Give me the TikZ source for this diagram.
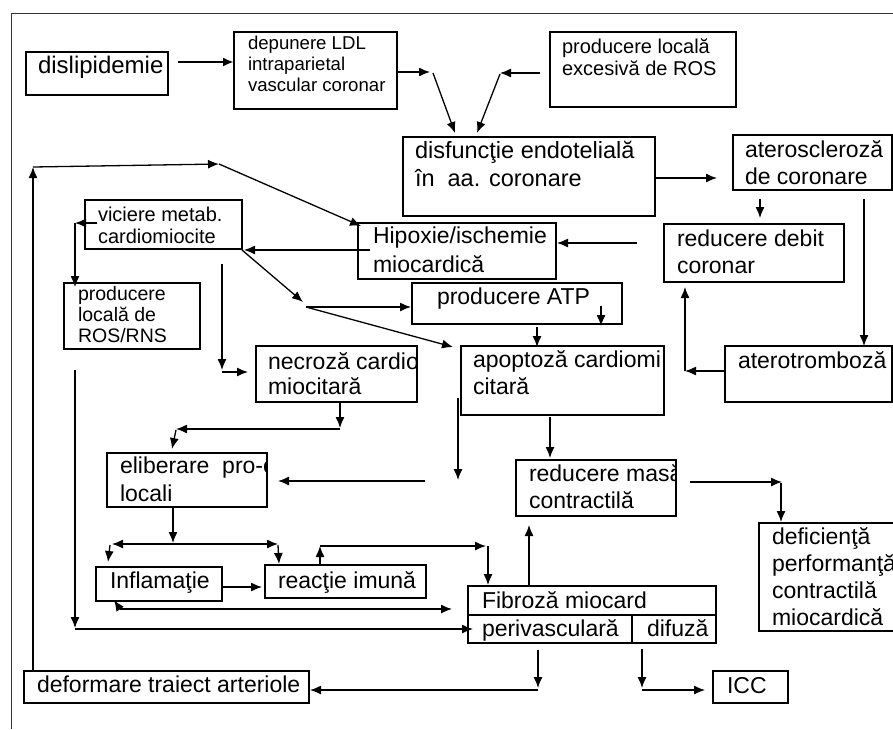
\documentclass[tikz,border=0pt]{standalone}
\usepackage{fontspec}
\setmainfont{Liberation Sans}
\usetikzlibrary{arrows.meta,calc}
\newcommand\mybox[5]{\node[box, minimum width={#4-#2}, minimum height={#5-#3}] (#1) at ({(#2+#4)/2},{(#3+#5)/2}) {};}
\begin{document}
\begin{tikzpicture}[x=1pt,y=-1pt,
  box/.style={draw, line width=1.1pt, inner sep=0pt, outer sep=0pt},
  big/.style={font=\fontsize{23}{27}\selectfont, inner sep=0pt, outer sep=0pt, anchor=base west, align=left},
  med/.style={font=\fontsize{19.5}{21}\selectfont, inner sep=0pt, outer sep=0pt, anchor=base west, align=left},
  arr/.style={line width=1.3pt, -{Latex[length=11pt,width=9pt]}},
  ln/.style={line width=1.3pt}]
\useasboundingbox (0,0) rectangle (893,729);
\clip (0,0) rectangle (893,729);
\fill[white] (0,0) rectangle (893,729);
% frame
\draw[line width=1pt, black!80] (11,729) -- (11,13) -- (900,13);
% boxes
\mybox{dis}{26}{52}{168}{95}
\mybox{ldl}{234}{32}{397}{109}
\mybox{ros}{550}{32}{736}{107}
\mybox{endo}{403}{137}{655}{216}
\mybox{ater}{733}{135}{892}{190}
\mybox{deb}{664}{224}{844}{282}
\mybox{tromb}{725}{346}{892}{402}
\mybox{hip}{358}{223}{556}{279}
\mybox{atp}{412}{283}{622}{324}
\mybox{apo}{461}{346}{664}{415}
\mybox{vic}{85}{200}{242}{249}
\mybox{rns}{64}{283}{200}{349}
\mybox{necr}{256}{346}{417}{402}
\mybox{elib}{107}{453}{267}{507}
\mybox{infl}{96}{567}{222}{601}
\mybox{imun}{265}{565}{426}{598}
\mybox{defo}{24}{671}{309}{703}
\mybox{masa}{516}{460}{676}{516}
\mybox{defic}{759}{523}{910}{631}
\mybox{fib}{468}{586}{716}{643}
\mybox{icc}{713}{671}{788}{703}
\draw[line width=1.1pt] (fib.west |- 0,615) -- (fib.east |- 0,615);
\draw[line width=1.1pt] (632,615) -- (632,643);
% texts (base = last line baseline)
\node[big, font=\fontsize{24}{27}\selectfont] (tdis) at (38,73) {dislipidemie};
\node[med, font=\fontsize{18.6}{21}\selectfont] (tldl) at (248,91) {depunere LDL\\intraparietal\\vascular coronar};
\node[med, font=\fontsize{20}{22}\selectfont] (tros) at (562,75) {producere locală\\excesivă de ROS};
\node[big, font=\fontsize{23.5}{28}\selectfont] (tendo) at (415,186) {disfuncţie endotelială\\în~ aa. coronare};
\node[big] (tater) at (745,184) {ateroscleroză\\de coronare};
\node[big, font=\fontsize{23}{26.5}\selectfont] (tdeb) at (677,273) {reducere debit\\coronar};
\node[big] (ttromb) at (738,368) {aterotromboză};
\node[big, font=\fontsize{23}{29}\selectfont] (thip) at (373,272) {Hipoxie/ischemie\\miocardică};
\node[big] (tatp) at (437,304) {producere ATP};
\node[big] (tapo) at (473,394) {apoptoză cardiomi\\citară};
\node[med, font=\fontsize{20}{22}\selectfont] (tvic) at (98,243) {viciere metab.\\cardiomiocite};
\node[med] (trns) at (78,342) {producere\\locală de\\ROS/RNS};
\begin{scope}
\clip (necr.south west) rectangle (necr.north east);
\node[big, font=\fontsize{23}{25}\selectfont] (tnecr) at (268,394) {necroză cardio\\miocitară};
\end{scope}
\begin{scope}
\clip (elib.south west) rectangle (elib.north east);
\node[big, font=\fontsize{23}{28}\selectfont] (telib) at (120,501) {eliberare~ pro-c\\locali};
\end{scope}
\node[big] (tinfl) at (110,588) {Inflamaţie};
\node[big] (timun) at (278,588) {reacţie imună};
\node[big] (tdefo) at (37,692) {deformare traiect arteriole};
\begin{scope}
\clip (masa.south west) rectangle (masa.north east);
\node[big] (tmasa) at (529,508) {reducere masă\\contractilă};
\end{scope}
\node[big, font=\fontsize{23}{26.7}\selectfont] (tdefic) at (772,625) {deficienţă\\performanţă\\contractilă\\miocardică};
\node[big] (tfib) at (482,608) {Fibroză miocard};
\node[big] (tper) at (482,636) {perivasculară};
\node[big] (tdif) at (647,636) {difuză};
\node[big] (ticc) at (727,693) {ICC};
% arrows
\draw[arr, line width=2.3pt] (178,62) -- (ldl.west |- 0,62);
\draw[arr] (ldl.east |- 0,72) -- (430,72);
\draw[arr] (433,73) -- (455,133);
\draw[arr] (540,73) -- (500,73);
\draw[arr] (500,74) -- (477,133);
\draw[arr] (endo.east |- 0,178) -- (717,178);
\draw[arr] (760,199) -- (760,218);
\draw[arr] (864,199) -- (864,346);
\draw[arr] (tromb.west |- 0,371) -- (685,371);
\draw[arr] (685,371) -- (685,287);
\draw[arr] (637,243) -- (557,243);
\draw[arr] (370,250) -- (244,250);
\draw[arr] (33,671) -- (33,167);
\draw[arr] (33,167) -- (219,164);
\draw[arr] (219,164) -- (361,226);
\draw[arr] (97,223) -- (75,223);
\draw[arr] (75,223) -- (75,287);
\draw[arr] (242,250) -- (303,302);
\draw[arr] (306,307) -- (411,307);
\draw[arr] (306,307) -- (453,347);
\draw[arr] (222,264) -- (222,370);
\draw[arr] (222,372) -- (248,372);
\draw[arr] (601,306) -- (601,326);
\draw[arr] (537,327) -- (537,347);
\draw[arr] (340,402) -- (340,428);
\draw[arr] (340,429) -- (176,429);
\draw[arr] (176,430) -- (172,449);
\draw[arr] (425,481) -- (278,481);
\draw[arr] (458,398) -- (458,480);
\draw[arr] (550,417) -- (550,458);
\draw[arr] (690,482) -- (782,482);
\draw[arr] (781,483) -- (781,522);
\draw[arr] (529,586) -- (529,525);
\draw[arr] (173,507) -- (173,543);
\draw[arr] (173,544) -- (112,544);
\draw[arr] (173,544) -- (278,544);
\draw[arr] (110,545) -- (108,562);
\draw[arr] (278,545) -- (279,564);
\draw[arr] (222,587) -- (262,587);
\draw[arr] (320,566) -- (320,546);
\draw[arr] (320,546) -- (486,546);
\draw[arr] (488,546) -- (488,585);
\draw[arr] (120,609) -- (114,600);
\draw[arr] (120,609) -- (452,609);
\draw[arr] (75,370) -- (75,628);
\draw[arr] (75,629) -- (473,629);
\draw[arr] (538,650) -- (538,688);
\draw[arr] (538,690) -- (310,690);
\draw[arr] (642,649) -- (642,688);
\draw[arr] (642,690) -- (705,690);
\end{tikzpicture}
\end{document}
